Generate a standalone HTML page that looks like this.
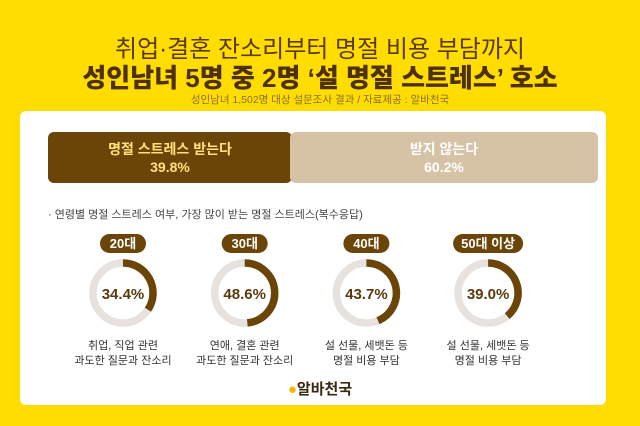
<!DOCTYPE html>
<html><head><meta charset="utf-8"><style>
body{margin:0;width:640px;height:426px;background:#FFDD00;font-family:"Liberation Sans","Noto Sans CJK KR",sans-serif;overflow:hidden;position:relative;color:#5a3a0c}
.abs{position:absolute}
.c{text-align:center}
</style></head><body>
<div class="abs c" style="left:0;width:640px;top:29px;font-size:24px;color:#5a3a0c">취업·결혼 잔소리부터 명절 비용 부담까지</div>
<div class="abs c" style="left:0;width:640px;top:58px;font-size:26px;font-weight:900;color:#4e300a">성인남녀 5명 중 2명 ‘설 명절 스트레스’ 호소</div>
<div class="abs c" style="left:0;width:640px;top:92px;font-size:10.5px;color:#8a6d2c">성인남녀 1,502명 대상 설문조사 결과 / 자료제공 : 알바천국</div>
<div class="abs" style="left:20px;top:111px;width:586px;height:294px;background:#fff;border-radius:6px"></div>
<div class="abs c" style="left:48px;top:132px;width:244px;height:51px;background:#6b4508;border-radius:6px;color:#ffe27a;font-size:14px;font-weight:bold;line-height:18px;padding-top:8px;box-sizing:border-box">명절 스트레스 받는다<br>39.8%</div>
<div class="abs c" style="left:290px;top:132px;width:308px;height:51px;background:#d6c3a5;border-radius:6px;color:#fff;font-size:14px;font-weight:bold;line-height:18px;padding-top:8px;box-sizing:border-box">받지 않는다<br>60.2%</div>
<div class="abs" style="left:48px;top:206px;font-size:11px;color:#444">· 연령별 명절 스트레스 여부, 가장 많이 받는 명절 스트레스(복수응답)</div>
<svg class="abs" style="left:0;top:0" width="640" height="426" id="chart"></svg>
<div class="abs c" style="left:0;width:640px;top:378px;font-size:15px;font-weight:bold;color:#3a2a10"><span style="color:#f2b800">●</span>알바천국</div>
<script>
const groups=["20대","30대","40대","50대 이상"];
const values=[34.4,48.6,43.7,39.0];
const line1=["취업, 직업 관련","연애, 결혼 관련","설 선물, 세뱃돈 등","설 선물, 세뱃돈 등"];
const line2=["과도한 질문과 잔소리","과도한 질문과 잔소리","명절 비용 부담","명절 비용 부담"];
const svg=document.getElementById('chart');const NS="http://www.w3.org/2000/svg";
function mk(t,a){const e=document.createElementNS(NS,t);for(const k in a)e.setAttribute(k,a[k]);svg.appendChild(e);return e;}
const cx=i=>123+i*121.7, cy=293, r=30;
groups.forEach((g,i)=>{
 const x=cx(i);const pw=g.length>3?70:46;
 const p=mk('rect',{x:x-pw/2,y:234,width:pw,height:19,rx:9.5,fill:'#6b4508'});
 
 const pt=mk('text',{x:x,y:248,'text-anchor':'middle','font-size':13,'font-weight':'bold',fill:'#fff'});pt.textContent=g;
 
 const bg=mk('circle',{cx:x,cy:cy,r:r,fill:'none',stroke:'#e7e2dd','stroke-width':7.5});
 
 const a=values[i]/100*2*Math.PI;const ex=x+r*Math.sin(a),ey=cy-r*Math.cos(a);
 const arc=mk('path',{d:`M${x} ${cy-r} A${r} ${r} 0 ${a>Math.PI?1:0} 1 ${ex} ${ey}`,fill:'none',stroke:'#6b4508','stroke-width':7.5});
 
 const vt=mk('text',{x:x,y:cy+6,'text-anchor':'middle','font-size':15,'font-weight':'bold',fill:'#5a3a0c'});vt.textContent=values[i].toFixed(1)+'%';
 
 const l1=mk('text',{x:x,y:349,'text-anchor':'middle','font-size':11,fill:'#333'});l1.textContent=line1[i];
 
 const l2=mk('text',{x:x,y:364,'text-anchor':'middle','font-size':11,fill:'#333'});l2.textContent=line2[i];
 
});
</script>
</body></html>
